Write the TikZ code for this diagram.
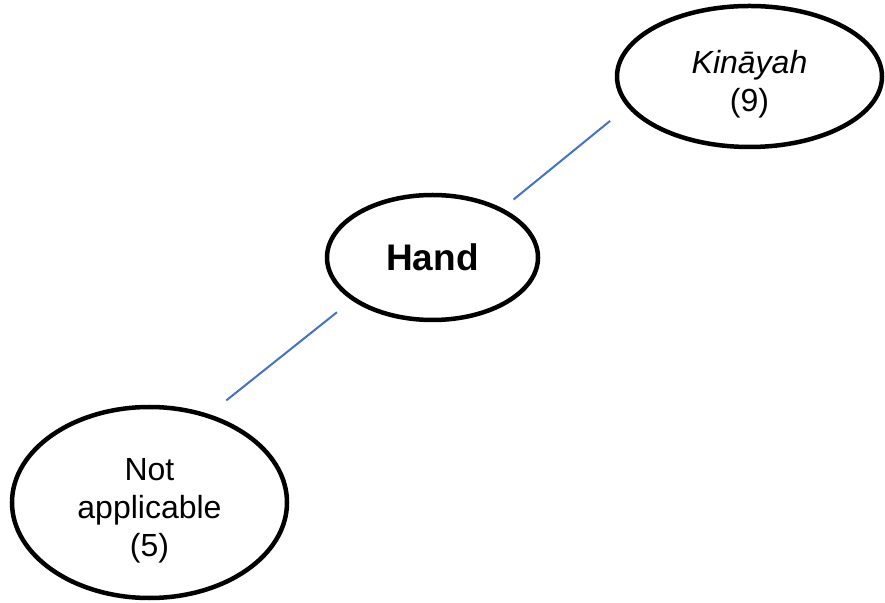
\documentclass[tikz,border=0pt]{standalone}
\usepackage{fontspec}
\setmainfont{Liberation Sans}
\usetikzlibrary{shapes.geometric}
\definecolor{linkblue}{RGB}{68,114,196}

\begin{document}
\begin{tikzpicture}[
  x=1pt, y=1pt,
  term/.style={draw, ellipse, line width=4.5pt, inner sep=0pt},
  words/.style={align=center, inner sep=0pt, yshift=-8pt,
    font=\fontsize{32}{38}\selectfont},
  link/.style={draw=linkblue, line width=2pt}
]
\useasboundingbox (0,0) rectangle (885,602);

\node[term, minimum width=265pt, minimum height=141pt,
  label={[words]center:{\textit{Kināyah}\\(9)}}] (kin) at (749.5,525.5) {};
\node[term, minimum width=211pt, minimum height=125pt,
  font=\fontsize{37}{42}\selectfont\bfseries] (hand) at (432.5,344.5) {Hand};
\node[term, minimum width=275pt, minimum height=191pt,
  label={[words]center:{Not\\applicable\\(5)}}] (na) at (149.5,99.5) {};

% the links stop short of the ellipses
\draw[link, shorten <=14pt, shorten >=22pt] (hand.35) -- (kin.194);
\draw[link, shorten <=19pt, shorten >=22pt] (hand.208) -- (na.56);
\end{tikzpicture}
\end{document}
